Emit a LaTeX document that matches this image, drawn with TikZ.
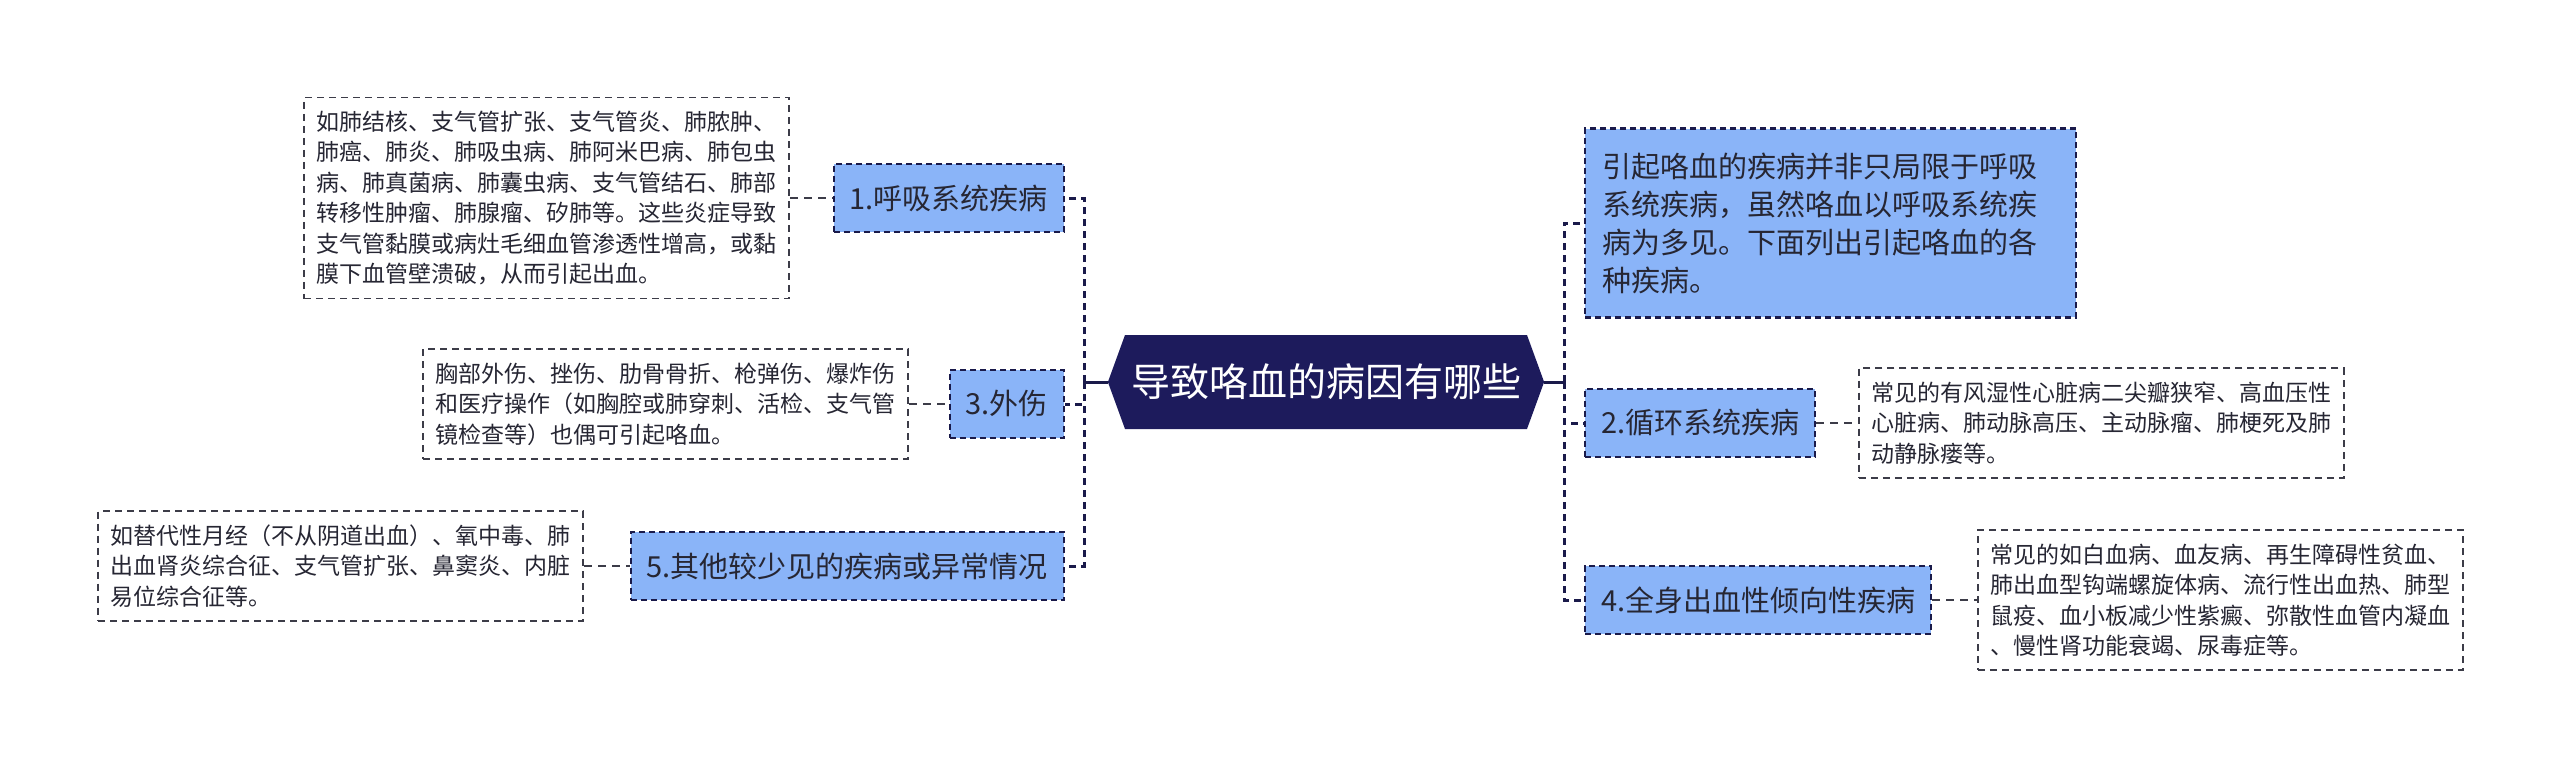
\documentclass[tikz,border=0pt]{standalone}
\usepackage{fontspec}
\setmainfont{Noto Sans CJK SC}
\usepackage{xcolor}
\definecolor{rootnavy}{HTML}{1D1B5C}
\definecolor{branchblue}{HTML}{8AB4F8}
\definecolor{linenavy}{HTML}{1A1A4A}
\definecolor{leafgrey}{HTML}{3C3C48}
\definecolor{inkdark}{HTML}{262633}
\usepackage{tikz}
\usetikzlibrary{shapes.symbols}

\begin{document}
\begin{tikzpicture}[x=1pt, y=-1pt,
  topic/.style={signal, signal to=east and west, signal pointer angle=140,
    fill=rootnavy, text=white, font=\fontsize{39}{44}\selectfont,
    minimum height=94pt, inner xsep=6pt},
  branch/.style={fill=branchblue, draw=linenavy, line width=2.2pt,
    dash pattern=on 6pt off 4pt, text=inkdark, font=\fontsize{29}{34}\selectfont,
    minimum height=68pt, inner xsep=16pt},
  note/.style={fill=branchblue, draw=linenavy, line width=2.2pt,
    dash pattern=on 6pt off 4pt, text=inkdark, font=\fontsize{29}{38}\selectfont,
    text width=457pt, align=left, inner xsep=17pt, inner ysep=24pt},
  leaf/.style={fill=white, draw=leafgrey, line width=1.6pt,
    dash pattern=on 7pt off 5pt, text=inkdark, font=\fontsize{23}{30.5}\selectfont,
    text width=460pt, align=left, inner xsep=12.5pt, inner ysep=13.5pt},
  stem/.style={draw=linenavy, line width=3pt},
  trunk/.style={draw=linenavy, line width=3pt, dash pattern=on 7pt off 5pt},
  twig/.style={draw=leafgrey, line width=2pt, dash pattern=on 8pt off 6pt}]
  \useasboundingbox (0,0) rectangle (2560,769);

  % Root
  \node[topic] (root) at (1326,382) {导致咯血的病因有哪些};
  \coordinate (lhub) at (1084,382);
  \coordinate (rhub) at (1564,382);

  % Left branches
  \node[branch, anchor=east] (b1) at (1065,198) {1.呼吸系统疾病};
  \node[branch, anchor=east] (b3) at (1065,404) {3.外伤};
  \node[branch, anchor=east] (b5) at (1065,566) {5.其他较少见的疾病或异常情况};

  % Right branches
  \node[note, anchor=west] (intro) at (1584,223)
    {引起咯血的疾病并非只局限于呼吸\\系统疾病，虽然咯血以呼吸系统疾\\病为多见。下面列出引起咯血的各\\种疾病。};
  \node[branch, anchor=west] (b2) at (1584,423) {2.循环系统疾病};
  \node[branch, anchor=west] (b4) at (1584,600) {4.全身出血性倾向性疾病};

  % Leaves
  \node[leaf, anchor=east] (l1) at (790,198)
    {如肺结核、支气管扩张、支气管炎、肺脓肿、\\肺癌、肺炎、肺吸虫病、肺阿米巴病、肺包虫\\病、肺真菌病、肺囊虫病、支气管结石、肺部\\转移性肿瘤、肺腺瘤、矽肺等。这些炎症导致\\支气管黏膜或病灶毛细血管渗透性增高，或黏\\膜下血管壁溃破，从而引起出血。};
  \node[leaf, anchor=east] (l3) at (909,404)
    {胸部外伤、挫伤、肋骨骨折、枪弹伤、爆炸伤\\和医疗操作（如胸腔或肺穿刺、活检、支气管\\镜检查等）也偶可引起咯血。};
  \node[leaf, anchor=east] (l5) at (584,566)
    {如替代性月经（不从阴道出血）、氧中毒、肺\\出血肾炎综合征、支气管扩张、鼻窦炎、内脏\\易位综合征等。};
  \node[leaf, anchor=west] (l2) at (1858,423)
    {常见的有风湿性心脏病二尖瓣狭窄、高血压性\\心脏病、肺动脉高压、主动脉瘤、肺梗死及肺\\动静脉瘘等。};
  \node[leaf, anchor=west] (l4) at (1977,600)
    {常见的如白血病、血友病、再生障碍性贫血、\\肺出血型钩端螺旋体病、流行性出血热、肺型\\鼠疫、血小板减少性紫癜、弥散性血管内凝血\\、慢性肾功能衰竭、尿毒症等。};

  % Connectors
  \draw[stem] (root.west) -- (lhub);
  \draw[trunk] (lhub) |- (b1.east);
  \draw[trunk] (lhub) |- (b3.east);
  \draw[trunk] (lhub) |- (b5.east);
  \draw[stem] (root.east) -- (rhub);
  \draw[trunk] (rhub) |- (intro.west);
  \draw[trunk] (rhub) |- (b2.west);
  \draw[trunk] (rhub) |- (b4.west);
  \draw[twig] (l1.east) -- (b1.west);
  \draw[twig] (l3.east) -- (b3.west);
  \draw[twig] (l5.east) -- (b5.west);
  \draw[twig] (b2.east) -- (l2.west);
  \draw[twig] (b4.east) -- (l4.west);
\end{tikzpicture}
\end{document}
